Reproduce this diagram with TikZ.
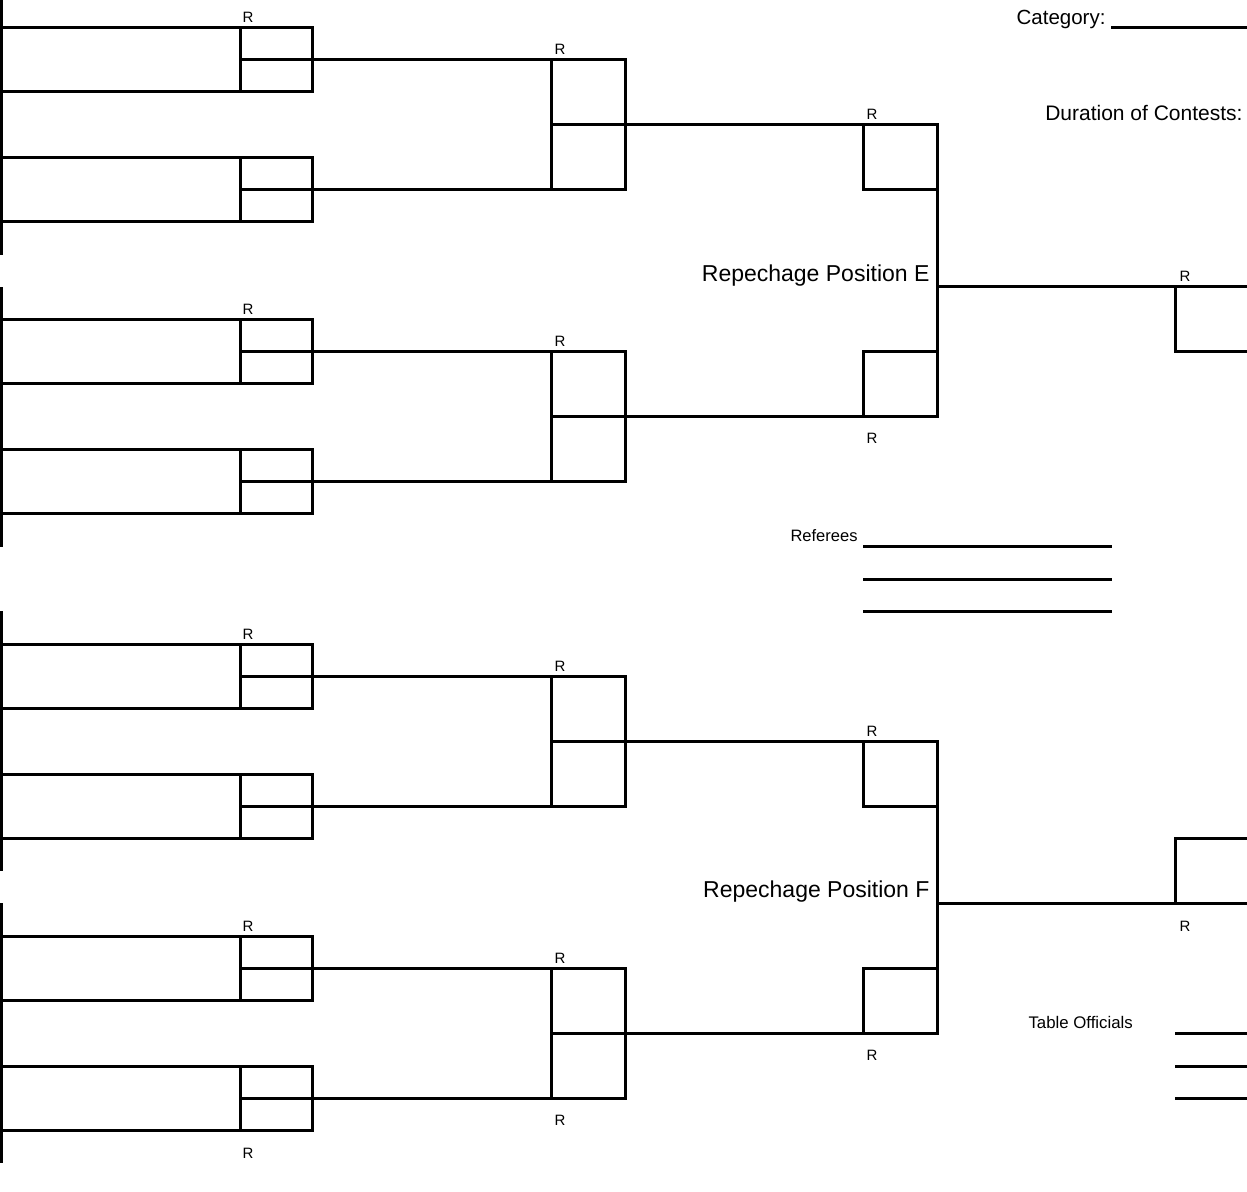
\documentclass[tikz,border=0pt]{standalone}
\usepackage{fontspec}
\setmainfont{Liberation Sans}
\begin{document}
\begin{tikzpicture}[x=1pt,y=-1pt,line width=3pt,
  rlab/.style={font=\fontsize{15}{18}\selectfont,anchor=base west,inner sep=0pt},
  reptext/.style={font=\fontsize{23}{27}\selectfont,anchor=base east,inner sep=0pt},
  infotext/.style={font=\fontsize{20.5}{24}\selectfont,inner sep=0pt},
  smalltext/.style={font=\fontsize{16.8}{20}\selectfont,inner sep=0pt}]
\useasboundingbox (0,0) rectangle (1247,1191);

% left vertical segments
\foreach \a/\b in {-5/255,287/547,611/871,903/1163}
  \draw (1,\a) -- (1,\b);

\foreach \o in {0,617} {
  % first-round boxes
  \foreach \t in {27,157,319,449} {
    \draw (1,\t+\o) rectangle (312,\t+\o+64);
    \draw (240,\t+\o) -- (240,\t+\o+64);
  }
  % connectors from first round to second round
  \foreach \m in {59,189,351,481}
    \draw (240,\m+\o) -- (551,\m+\o);
  % second-round boxes
  \draw (551,59+\o) rectangle (625,189+\o);
  \draw (551,351+\o) rectangle (625,481+\o);
  % second round to third round
  \draw (551,124+\o) -- (937,124+\o) -- (937,416+\o) -- (551,416+\o);
  % third-round boxes
  \draw (863,124+\o) -- (863,189+\o) -- (937,189+\o);
  \draw (863,416+\o) -- (863,351+\o) -- (937,351+\o);
}

% fourth round (repechage positions)
\draw (937,286) -- (1247,286);
\draw (1175,286) -- (1175,351) -- (1247,351);
\draw (937,903) -- (1247,903);
\draw (1175,903) -- (1175,838) -- (1247,838);

% R labels
\foreach \x/\y [count=\i] in {241/22,553/54,865/119,865/443,241/314,553/346,1178/281,
  241/639,553/671,865/736,241/931,553/963,865/1060,553/1125,241/1158,1178/931}
  \node[rlab] (r\i) at (\x,\y) {R};

% repechage texts
\node[reptext] (repE) at (931,281) {Repechage Position E};
\node[reptext] (repF) at (931,897) {Repechage Position F};

% header info
\node[infotext,anchor=base east] (cat) at (1107,24) {Category:};
\draw (1111,27) -- (1247,27);
\node[infotext,font=\fontsize{21}{25}\selectfont,anchor=base east] (dur) at (1244,120) {Duration of Contests:};

% referees
\node[smalltext,font=\fontsize{16.5}{20}\selectfont,anchor=base east] (ref) at (859,541) {Referees};
\foreach \y in {546,579,611}
  \draw (863,\y) -- (1112,\y);

% table officials
\node[smalltext,anchor=base west] (tab) at (1027,1028) {Table Officials};
\foreach \y in {1033,1066,1098}
  \draw (1175,\y) -- (1247,\y);
\end{tikzpicture}
\end{document}
